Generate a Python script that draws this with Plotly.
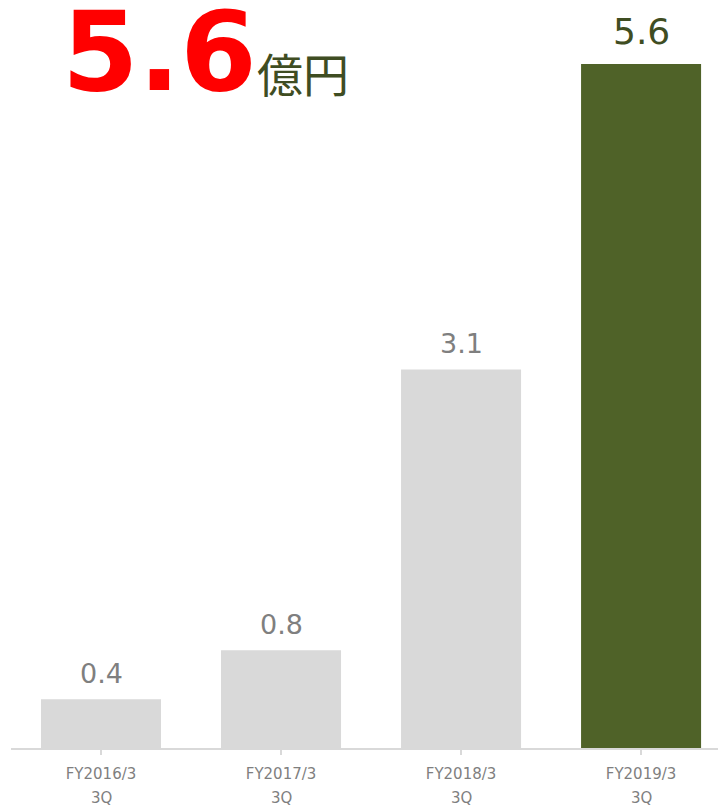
import plotly.graph_objects as go

categories = ["FY2016/3", "FY2017/3", "FY2018/3", "FY2019/3"]
quarters = ["3Q", "3Q", "3Q", "3Q"]
values = [0.4, 0.8, 3.1, 5.6]
value_labels = ["0.4", "0.8", "3.1", "5.6"]
headline_value = "5.6"
headline_unit = "億円"

GRAY_BAR = "#d9d9d9"
GREEN_BAR = "#4f6228"
LABEL_GRAY = "#7f7f7f"
OLIVE_TEXT = "#3f4d22"

bar_colors = [GRAY_BAR, GRAY_BAR, GRAY_BAR, GREEN_BAR]
label_colors = [LABEL_GRAY, LABEL_GRAY, LABEL_GRAY, OLIVE_TEXT]
label_sizes = [27, 27, 27, 36]
label_shifts = [8, 8, 8, 10]

x_idx = list(range(len(categories)))

PLOT_H = 740  # plot-area height in figure pixels

fig = go.Figure()
fig.add_trace(go.Bar(
    x=x_idx, y=values,
    marker=dict(color=bar_colors, line=dict(width=0)),
    hoverinfo="skip",
))

annotations = []
for i, (v, lab, col, sz, sh) in enumerate(zip(values, value_labels, label_colors, label_sizes, label_shifts)):
    annotations.append(dict(
        x=i, y=v, xref="x", yref="y", text=lab, showarrow=False,
        xanchor="center", yanchor="bottom", yshift=sh,
        font=dict(family="DejaVu Sans", size=sz, color=col),
    ))
for i, q in enumerate(quarters):
    annotations.append(dict(
        x=i, y=0, xref="x", yref="y", text=q, showarrow=False,
        xanchor="center", yanchor="middle", yshift=-50,
        font=dict(family="DejaVu Sans", size=15, color=LABEL_GRAY),
    ))

# headline
annotations.append(dict(
    x=(52 - 3) / 710, y=1 - 110 / PLOT_H, xref="paper", yref="paper",
    text=headline_value, showarrow=False, xanchor="left", yanchor="bottom",
    font=dict(family="DejaVu Sans", size=110, color="#ff0000", weight="bold"),
))
annotations.append(dict(
    x=(247 - 3) / 710, y=1 - 99 / PLOT_H, xref="paper", yref="paper",
    text=headline_unit, showarrow=False, xanchor="left", yanchor="bottom",
    font=dict(family="Noto Sans CJK JP", size=46, color=OLIVE_TEXT),
))

fig.update_layout(
    width=726, height=808,
    margin=dict(l=3, r=13, t=0, b=68),
    paper_bgcolor="white", plot_bgcolor="white",
    bargap=1/3,
    showlegend=False,
    annotations=annotations,
    xaxis=dict(
        range=[-0.5, 3.444],
        tickmode="array", tickvals=x_idx, ticktext=categories,
        tickfont=dict(family="DejaVu Sans", size=15, color=LABEL_GRAY),
        showline=True, linecolor=GRAY_BAR, linewidth=1.5,
        ticks="outside", tickson="boundaries", ticklen=5, tickcolor=GRAY_BAR, tickwidth=1.5,
        ticklabelstandoff=6,
        showgrid=False, zeroline=False, fixedrange=True,
    ),
    yaxis=dict(
        range=[0, 6.059], visible=False, showgrid=False, zeroline=False, fixedrange=True,
    ),
)

fig.write_html("out.html")
